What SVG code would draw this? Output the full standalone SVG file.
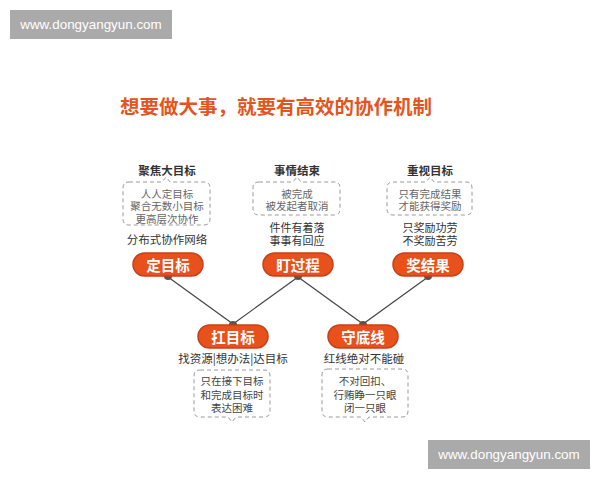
<svg xmlns="http://www.w3.org/2000/svg" width="600" height="480" viewBox="0 0 600 480">
<style>
text{font-family:"Noto Sans CJK SC","Noto Sans",sans-serif;text-anchor:middle;dominant-baseline:central}
.wm{fill:#aaaaaa}
.wmt{font-family:"Liberation Sans",Arial,sans-serif;font-size:13.4px;fill:#ffffff}
.title{font-size:19.5px;font-weight:bold;fill:#e4541f}
.head{font-size:11.5px;font-weight:bold;fill:#333333}
.box{fill:none;stroke:#9a9a9a;stroke-width:1;stroke-dasharray:4 3}
.bt{font-size:10.5px;fill:#666666}
.pt{font-size:11.5px;fill:#333333}
.pt2{font-size:11px;fill:#333333}
.pill{fill:#e8501c;stroke:#c4421a;stroke-width:1.5}
.pl{font-size:14.5px;font-weight:bold;fill:#ffffff}
.ln{stroke:#444444;stroke-width:1.2;fill:none}
.dot{fill:#555555}
</style>
<rect width="600" height="480" fill="#ffffff"/>
<g id="watermark-top">
<rect class="wm" x="10" y="10" width="162" height="29"/>
<text class="wmt" x="91" y="24.5">www.dongyangyun.com</text>
</g>
<g id="watermark-bottom">
<rect class="wm" x="428" y="440" width="162" height="29"/>
<text class="wmt" x="509" y="454.5">www.dongyangyun.com</text>
</g>
<text class="title" x="276" y="105">想要做大事，就要有高效的协作机制</text>
<g id="connectors">
<line class="ln" x1="168" y1="277" x2="233" y2="324"/>
<line class="ln" x1="298" y1="277" x2="233" y2="324"/>
<line class="ln" x1="298" y1="277" x2="363" y2="324"/>
<line class="ln" x1="428" y1="277" x2="363" y2="324"/>
<circle class="dot" cx="168" cy="276" r="4"/>
<circle class="dot" cx="298" cy="276" r="4"/>
<circle class="dot" cx="428" cy="276" r="4"/>
<circle class="dot" cx="233" cy="325" r="4"/>
<circle class="dot" cx="363" cy="325" r="4"/>
</g>
<g id="node-dingmubiao">
<text class="head" x="167" y="170">聚焦大目标</text>
<path class="box" d="M129,182 H162 L166,177 L170,182 H204 Q210,182 210,188 V219 Q210,225 204,225 H129 Q123,225 123,219 V188 Q123,182 129,182 Z"/>
<text class="bt" x="167" y="193">人人定目标</text>
<text class="bt" x="167" y="205.5">聚合无数小目标</text>
<text class="bt" x="167" y="218">更高层次协作</text>
<text class="pt" x="167" y="239">分布式协作网络</text>
<rect class="pill" x="133" y="253" width="70" height="23" rx="11.5"/>
<text class="pl" x="168" y="264.5">定目标</text>
</g>
<g id="node-dingguocheng">
<text class="head" x="297" y="170">事情结束</text>
<path class="box" d="M259,182 H293 L297,177 L301,182 H334 Q340,182 340,188 V209 Q340,215 334,215 H259 Q253,215 253,209 V188 Q253,182 259,182 Z"/>
<text class="bt" x="297" y="193">被完成</text>
<text class="bt" x="297" y="205.5">被发起者取消</text>
<text class="pt2" x="297" y="227">件件有着落</text>
<text class="pt2" x="297" y="239.5">事事有回应</text>
<rect class="pill" x="263" y="253" width="70" height="23" rx="11.5"/>
<text class="pl" x="298" y="264.5">盯过程</text>
</g>
<g id="node-jiangjieguo">
<text class="head" x="430" y="170">重视目标</text>
<path class="box" d="M393,182 H426 L430,177 L434,182 H466 Q472,182 472,188 V209 Q472,215 466,215 H393 Q387,215 387,209 V188 Q387,182 393,182 Z"/>
<text class="bt" x="430" y="193">只有完成结果</text>
<text class="bt" x="430" y="205.5">才能获得奖励</text>
<text class="pt2" x="430" y="227">只奖励功劳</text>
<text class="pt2" x="430" y="239.5">不奖励苦劳</text>
<rect class="pill" x="393" y="253" width="70" height="23" rx="11.5"/>
<text class="pl" x="428" y="264.5">奖结果</text>
</g>
<g id="node-kangmubiao">
<rect class="pill" x="198" y="325" width="70" height="23" rx="11.5"/>
<text class="pl" x="233" y="336.5">扛目标</text>
<text class="pt" x="233" y="358">找资源|想办法|达目标</text>
<path class="box" d="M200,370 H264 Q270,370 270,376 V411 Q270,417 264,417 H236 L232,422 L228,417 H200 Q194,417 194,411 V376 Q194,370 200,370 Z"/>
<text class="bt" x="232" y="380.5" style="fill:#444">只在接下目标</text>
<text class="bt" x="232" y="394" style="fill:#444">和完成目标时</text>
<text class="bt" x="232" y="407" style="fill:#444">表达困难</text>
</g>
<g id="node-shoudixian">
<rect class="pill" x="328" y="325" width="70" height="23" rx="11.5"/>
<text class="pl" x="363" y="336.5">守底线</text>
<text class="pt" x="364" y="358">红线绝对不能碰</text>
<path class="box" d="M328,369 H402 Q408,369 408,375 V411 Q408,417 402,417 H369 L365,422 L361,417 H328 Q322,417 322,411 V375 Q322,369 328,369 Z"/>
<text class="bt" x="365" y="380" style="fill:#444">不对回扣、</text>
<text class="bt" x="365" y="394" style="fill:#444">行贿睁一只眼</text>
<text class="bt" x="365" y="407" style="fill:#444">闭一只眼</text>
</g>
</svg>
